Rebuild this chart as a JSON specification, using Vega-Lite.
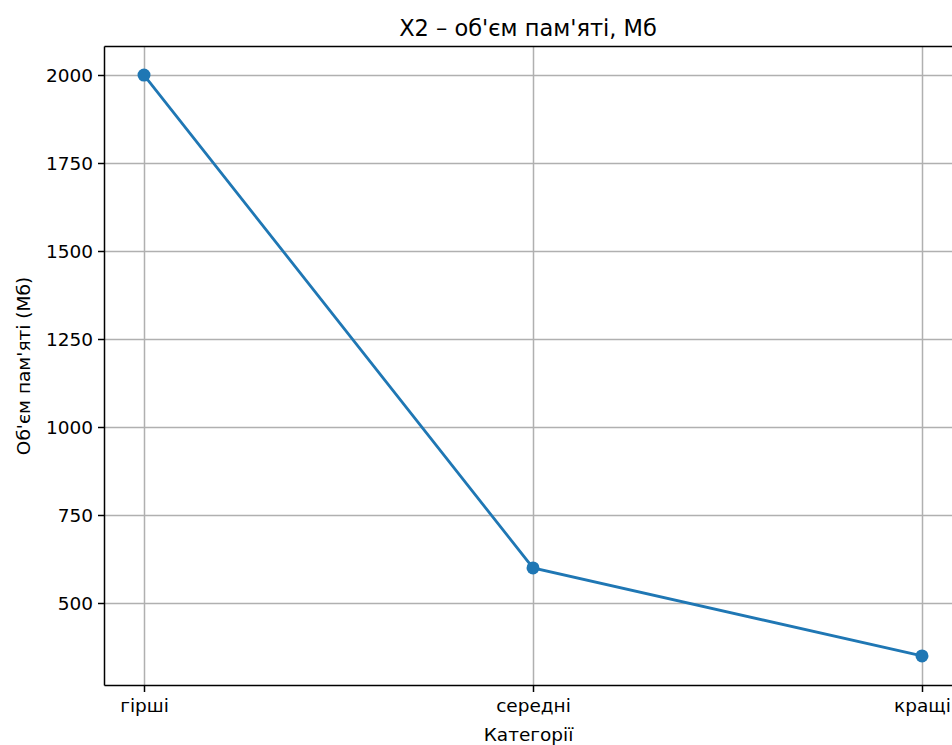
{
  "$schema": "https://vega.github.io/schema/vega-lite/v6.json",
  "width": 848,
  "height": 639,
  "autosize": {"type": "none"},
  "padding": {"left": 104, "top": 46, "right": 0, "bottom": 60},
  "background": "white",
  "config": {
    "font": "DejaVu Sans",
    "view": {"stroke": null},
    "axis": {
      "labelFont": "DejaVu Sans",
      "titleFont": "DejaVu Sans",
      "labelFontSize": 18.5,
      "titleFontSize": 18.5,
      "labelColor": "#000000",
      "titleColor": "#000000",
      "titleFontWeight": "normal",
      "domainColor": "#000000",
      "domainWidth": 1.5,
      "tickColor": "#000000",
      "tickWidth": 1.5,
      "tickSize": 6.5,
      "labelPadding": 5,
      "gridColor": "#b0b0b0",
      "gridWidth": 1.5,
      "gridOpacity": 1
    }
  },
  "title": {
    "text": "X2 – об'єм пам'яті, Мб",
    "font": "DejaVu Sans",
    "fontSize": 22.5,
    "fontWeight": "normal",
    "color": "#000000",
    "anchor": "middle",
    "offset": 6
  },
  "data": {
    "values": [
      {"category": "гірші", "memory": 2000},
      {"category": "середні", "memory": 600},
      {"category": "кращі", "memory": 350}
    ]
  },
  "resolve": {"axis": {"x": "independent", "y": "independent"}},
  "layer": [
    {
      "mark": {"type": "line", "color": "#1f77b4", "strokeWidth": 2.8},
      "encoding": {
        "x": {
          "field": "category",
          "type": "ordinal",
          "sort": null,
          "scale": {"type": "point", "padding": 0.09, "align": 0.5714},
          "axis": {"title": "Категорії", "labelAngle": 0, "titlePadding": 10, "grid": true}
        },
        "y": {
          "field": "memory",
          "type": "quantitative",
          "scale": {"domain": [267.5, 2082.5], "nice": false, "zero": false},
          "axis": {
            "title": "Об'єм пам'яті (Мб)",
            "values": [500, 750, 1000, 1250, 1500, 1750, 2000],
            "format": "d",
            "grid": true,
            "titlePadding": 12
          }
        }
      }
    },
    {
      "mark": {"type": "point", "filled": true, "color": "#1f77b4", "opacity": 1, "size": 169},
      "encoding": {
        "x": {
          "field": "category",
          "type": "ordinal",
          "sort": null,
          "scale": {"type": "point", "padding": 0.09, "align": 0.5714},
          "axis": {"orient": "top", "labels": false, "ticks": false, "grid": false, "title": null}
        },
        "y": {
          "field": "memory",
          "type": "quantitative",
          "scale": {"domain": [267.5, 2082.5], "nice": false, "zero": false},
          "axis": {"orient": "right", "labels": false, "ticks": false, "grid": false, "domain": false, "title": null}
        }
      }
    }
  ]
}
